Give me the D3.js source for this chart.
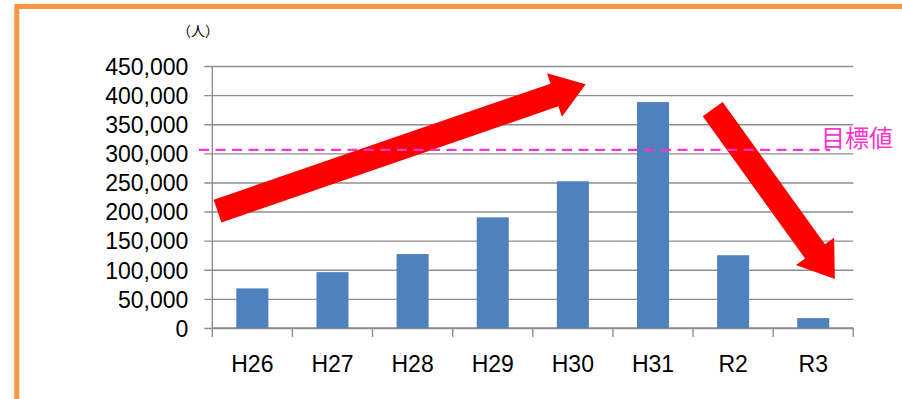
<!DOCTYPE html>
<html>
<head>
<meta charset="utf-8">
<script src="https://cdn.jsdelivr.net/npm/d3@7"></script>
<style>
  html, body { margin: 0; padding: 0; background: #fff; }
  svg { display: block; }
</style>
</head>
<body>
<svg id="chart" width="902" height="399"></svg>
<script>
// Visitors per fiscal year
const categories = ["H26", "H27", "H28", "H29", "H30", "H31", "R2", "R3"];
const visitors = [68000, 96000, 127000, 190000, 252000, 388000, 125000, 17000];
const yTicks = [0, 50000, 100000, 150000, 200000, 250000, 300000, 350000, 400000, 450000];
const targetValue = 306000;
const targetLabel = "目標値";
const unitLabel = "（人）";
// Trend arrows: [category position, value] for tail and tip
const trendUp = [[0.065, 200700], [4.66, 418700]];
const trendDown = [[6.245, 376000], [7.77, 84200]];

const svg = d3.select("#chart");
const W = 902, H = 399;
const plot = { left: 212.3, right: 853.3, top: 66, bottom: 328 };

// Orange frame (extends past the right and bottom edges)
svg.append("rect")
  .attr("x", 16.8).attr("y", 6.5)
  .attr("width", W + 20).attr("height", H + 20)
  .attr("fill", "#fff")
  .attr("stroke", "#F79646").attr("stroke-width", 5);

const x = d3.scaleBand().domain(categories)
  .range([plot.left, plot.right]).paddingInner(0.6).paddingOuter(0.3);
const xPos = d3.scaleLinear().domain([0, categories.length]).range([plot.left, plot.right]);
const y = d3.scaleLinear().domain([0, 450000]).range([plot.bottom, plot.top]);

const font = "'Liberation Sans', Arial, sans-serif";
const gridColor = "#8E8E8E";

// Gridlines with outer ticks
const yAxis = d3.axisLeft(y).tickValues(yTicks).tickFormat(d3.format(","))
  .tickSize(-(plot.right - plot.left)).tickPadding(24);
const gy = svg.append("g").attr("transform", `translate(${plot.left},0)`).call(yAxis);
gy.select(".domain").remove();
gy.selectAll(".tick line").attr("stroke", gridColor).attr("stroke-width", 1.4).attr("x1", -8);
gy.selectAll(".tick text").attr("font-family", font).attr("font-size", 23)
  .attr("fill", "#000").attr("dy", "0.36em");

// Vertical axis line
svg.append("line")
  .attr("x1", plot.left).attr("x2", plot.left)
  .attr("y1", plot.top).attr("y2", plot.bottom)
  .attr("stroke", gridColor).attr("stroke-width", 1.4);

// Category axis: ticks at category boundaries
const gx = svg.append("g");
gx.append("line")
  .attr("x1", plot.left).attr("x2", plot.right)
  .attr("y1", plot.bottom).attr("y2", plot.bottom)
  .attr("stroke", gridColor).attr("stroke-width", 1.4);
gx.selectAll("line.tk").data(d3.range(categories.length + 1)).join("line")
  .attr("class", "tk")
  .attr("x1", d => xPos(d)).attr("x2", d => xPos(d))
  .attr("y1", plot.bottom).attr("y2", plot.bottom + 9)
  .attr("stroke", gridColor).attr("stroke-width", 1.4);
gx.selectAll("text").data(categories).join("text")
  .attr("x", d => x(d) + x.bandwidth() / 2)
  .attr("y", 371.5)
  .attr("text-anchor", "middle")
  .attr("font-family", font).attr("font-size", 23).attr("fill", "#000")
  .text(d => d);

// Bars
svg.append("g").selectAll("rect").data(categories).join("rect")
  .attr("x", d => x(d))
  .attr("y", (d, i) => y(visitors[i]))
  .attr("width", x.bandwidth())
  .attr("height", (d, i) => plot.bottom - y(visitors[i]))
  .attr("fill", "#4F81BD");

// Unit label
svg.append("text")
  .attr("x", 198).attr("y", 36)
  .attr("text-anchor", "middle")
  .attr("font-family", "'Noto Sans CJK JP', sans-serif")
  .attr("font-size", 14).attr("fill", "#000")
  .text(unitLabel);

// Block arrow polygon from tail to tip
function arrowPath(tail, tip, shaft, headW, headL) {
  const tx = xPos(tail[0]), ty = y(tail[1]);
  const px = xPos(tip[0]), py = y(tip[1]);
  const len = Math.hypot(px - tx, py - ty);
  const ux = (px - tx) / len, uy = (py - ty) / len;
  const nx = -uy, ny = ux;
  const bx = px - ux * headL, by = py - uy * headL;
  const pts = [
    [tx + nx * shaft / 2, ty + ny * shaft / 2],
    [bx + nx * shaft / 2, by + ny * shaft / 2],
    [bx + nx * headW / 2, by + ny * headW / 2],
    [px, py],
    [bx - nx * headW / 2, by - ny * headW / 2],
    [bx - nx * shaft / 2, by - ny * shaft / 2],
    [tx - nx * shaft / 2, ty - ny * shaft / 2]
  ];
  return "M" + pts.map(p => p.join(",")).join("L") + "Z";
}

svg.append("path").attr("d", arrowPath(trendUp[0], trendUp[1], 24, 46, 33)).attr("fill", "#FF0000");
svg.append("path").attr("d", arrowPath(trendDown[0], trendDown[1], 24.5, 47, 34)).attr("fill", "#FF0000");

// Target line, drawn over bars and arrows
svg.append("line")
  .attr("x1", xPos(-0.166)).attr("x2", xPos(7.71))
  .attr("y1", y(targetValue)).attr("y2", y(targetValue))
  .attr("stroke", "#FF33CC").attr("stroke-width", 2.2)
  .attr("stroke-dasharray", "10,6.5");
svg.append("text")
  .attr("x", 821).attr("y", y(targetValue) - 2.5)
  .attr("font-family", "'Noto Sans CJK JP', sans-serif")
  .attr("font-size", 24).attr("fill", "#FF33CC")
  .text(targetLabel);
</script>
</body>
</html>
